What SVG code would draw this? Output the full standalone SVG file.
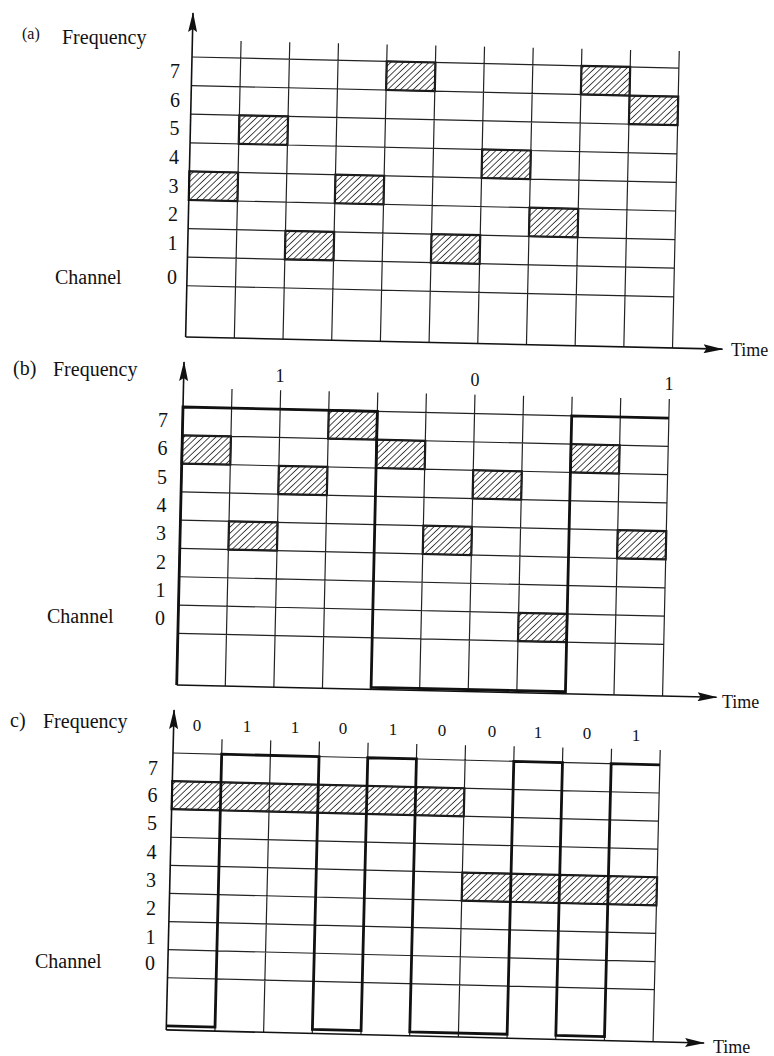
<svg xmlns="http://www.w3.org/2000/svg" width="774" height="1056" viewBox="0 0 774 1056">
<style>
text{font-family:"Liberation Serif","Times New Roman",serif;fill:#111}
.lbl{font-size:20px}
.num{font-size:20px;text-anchor:end}
.bit{font-size:17px;text-anchor:middle}
.tm{font-size:18px}
.g{stroke:#222;stroke-width:1.2;fill:none}
.ax{stroke:#111;stroke-width:1.6;fill:none}
.h{fill:url(#hatch);stroke:#111;stroke-width:2.2}
.w{stroke:#111;stroke-width:2.8;fill:none;stroke-linejoin:miter}
</style>
<defs>
<pattern id="hatch" patternUnits="userSpaceOnUse" width="4.4" height="4.4" patternTransform="rotate(45)">
<rect width="4.4" height="4.4" fill="#fff"/>
<line x1="0" y1="0" x2="0" y2="4.4" stroke="#111" stroke-width="1.5"/>
</pattern>
<marker id="arr" viewBox="0 0 20 9" refX="19" refY="4.5" markerWidth="20" markerHeight="9" orient="auto" markerUnits="userSpaceOnUse">
<path d="M0,0 L20,4.5 L0,9 L3,4.5 z" fill="#111"/>
</marker>
</defs>

<!-- Panel (a) -->
<g id="panel-a">
<g id="grid-a" transform="translate(192,57) rotate(1.3)">
<rect class="h" x="0" y="114.4" width="48.7" height="28.6"/>
<rect class="h" x="48.7" y="57.2" width="48.7" height="28.6"/>
<rect class="h" x="97.4" y="171.6" width="48.7" height="28.6"/>
<rect class="h" x="146.1" y="114.4" width="48.7" height="28.6"/>
<rect class="h" x="194.8" y="0" width="48.7" height="28.6"/>
<rect class="h" x="243.5" y="171.6" width="48.7" height="28.6"/>
<rect class="h" x="292.2" y="85.8" width="48.7" height="28.6"/>
<rect class="h" x="340.9" y="143" width="48.7" height="28.6"/>
<rect class="h" x="389.6" y="0" width="48.7" height="28.6"/>
<rect class="h" x="438.3" y="28.6" width="48.7" height="28.6"/>
<path class="g" d="M0,0H487 M0,28.6H487 M0,57.2H487 M0,85.8H487 M0,114.4H487 M0,143H487 M0,171.6H487 M0,200.2H487 M0,228.8H487
M48.7,-17V280 M97.4,-17V280 M146.1,-17V280 M194.8,-17V280 M243.5,-17V280 M292.2,-17V280 M340.9,-17V280 M389.6,-17V280 M438.3,-17V280 M487,-17V280"/>
<g id="connectors-a">
<line class="ax" x1="0" y1="280" x2="0" y2="-44" marker-end="url(#arr)"/>
<line class="ax" x1="0" y1="280" x2="537" y2="280" marker-end="url(#arr)"/>
</g>
</g>
<text class="lbl" x="22" y="39" style="font-size:16px">(a)</text>
<text class="lbl" x="62" y="44">Frequency</text>
<text class="lbl" x="55" y="284">Channel</text>
<text class="num" x="180" y="78">7</text>
<text class="num" x="180" y="107">6</text>
<text class="num" x="179.5" y="135">5</text>
<text class="num" x="179" y="164">4</text>
<text class="num" x="178.5" y="193">3</text>
<text class="num" x="178" y="221">2</text>
<text class="num" x="177.5" y="249.5">1</text>
<text class="num" x="177" y="283.5">0</text>
<text class="tm" x="731" y="356">Time</text>
</g>

<!-- Panel (b) -->
<g id="panel-b">
<g id="grid-b" transform="translate(183,407) rotate(1.3)">
<rect class="h" x="0" y="28.3" width="48.6" height="28.3"/>
<rect class="h" x="48.6" y="113.2" width="48.6" height="28.3"/>
<rect class="h" x="97.2" y="56.6" width="48.6" height="28.3"/>
<rect class="h" x="145.8" y="0" width="48.6" height="28.3"/>
<rect class="h" x="194.4" y="28.3" width="48.6" height="28.3"/>
<rect class="h" x="243" y="113.2" width="48.6" height="28.3"/>
<rect class="h" x="291.6" y="56.6" width="48.6" height="28.3"/>
<rect class="h" x="340.2" y="198.1" width="48.6" height="28.3"/>
<rect class="h" x="388.8" y="28.3" width="48.6" height="28.3"/>
<rect class="h" x="437.4" y="113.2" width="48.6" height="28.3"/>
<path class="g" d="M0,0H486 M0,28.3H486 M0,56.6H486 M0,84.9H486 M0,113.2H486 M0,141.5H486 M0,169.8H486 M0,198.1H486 M0,226.4H486
M48.6,-19V278 M97.2,-19V278 M145.8,-19V278 M194.4,-19V278 M243,-19V278 M291.6,-19V278 M340.2,-19V278 M388.8,-19V278 M437.4,-19V278 M486,-19V278"/>
<g id="connectors-b">
<line class="ax" x1="0" y1="278" x2="0" y2="-45" marker-end="url(#arr)"/>
<line class="ax" x1="0" y1="278" x2="540" y2="278" marker-end="url(#arr)"/>
<path class="w" d="M0,278 V0 H194.4 V276 H388.8 V0 H486"/>
</g>
</g>
<text class="lbl" x="13" y="375">(b)</text>
<text class="lbl" x="53" y="376">Frequency</text>
<text class="lbl" x="47" y="623">Channel</text>
<text class="num" x="168" y="426.5">7</text>
<text class="num" x="167.5" y="454.5">6</text>
<text class="num" x="167" y="483.5">5</text>
<text class="num" x="166.5" y="511.5">4</text>
<text class="num" x="166" y="539.5">3</text>
<text class="num" x="166" y="568.5">2</text>
<text class="num" x="165.5" y="596.5">1</text>
<text class="num" x="165" y="624.5">0</text>
<text class="bit" x="280" y="382" style="font-size:18px">1</text>
<text class="bit" x="475" y="386" style="font-size:18px">0</text>
<text class="bit" x="669" y="390" style="font-size:18px">1</text>
<text class="tm" x="722" y="708">Time</text>
</g>

<!-- Panel (c) -->
<g id="panel-c">
<g id="grid-c" transform="translate(173,753) rotate(1.4)">
<rect class="h" x="0" y="28.1" width="292.2" height="28.1"/>
<rect class="h" x="292.2" y="112.4" width="194.8" height="28.1"/>
<path class="g" d="M0,0H487 M0,28.1H487 M0,56.2H487 M0,84.3H487 M0,112.4H487 M0,140.5H487 M0,168.6H487 M0,196.7H487 M0,224.8H487
M48.7,-15V277 M97.4,-15V277 M146.1,-15V277 M194.8,-15V277 M243.5,-15V277 M292.2,-15V277 M340.9,-15V277 M389.6,-15V277 M438.3,-15V277 M487,-15V277"/>
<g id="connectors-c">
<line class="ax" x1="0" y1="277" x2="0" y2="-43" marker-end="url(#arr)"/>
<line class="ax" x1="0" y1="277" x2="538" y2="277" marker-end="url(#arr)"/>
<path class="w" d="M0,273 H48.7 V0 H146.1 V273 H194.8 V0 H243.5 V273 H340.9 V0 H389.6 V273 H438.3 V0 H487"/>
</g>
</g>
<text class="lbl" x="10" y="727">c)</text>
<text class="lbl" x="43" y="728">Frequency</text>
<text class="lbl" x="35" y="968">Channel</text>
<text class="num" x="158" y="774.5">7</text>
<text class="num" x="157.5" y="801.5">6</text>
<text class="num" x="157" y="829.5">5</text>
<text class="num" x="156.5" y="858.5">4</text>
<text class="num" x="156" y="886.5">3</text>
<text class="num" x="156" y="914.5">2</text>
<text class="num" x="155.5" y="943.5">1</text>
<text class="num" x="155" y="969.5">0</text>
<text class="bit" x="197" y="731">0</text>
<text class="bit" x="247" y="732">1</text>
<text class="bit" x="295" y="733">1</text>
<text class="bit" x="343" y="734">0</text>
<text class="bit" x="393" y="735">1</text>
<text class="bit" x="442" y="736">0</text>
<text class="bit" x="492" y="737">0</text>
<text class="bit" x="538" y="738">1</text>
<text class="bit" x="587" y="739">0</text>
<text class="bit" x="636" y="741">1</text>
<text class="tm" x="713" y="1053">Time</text>
</g>
</svg>
